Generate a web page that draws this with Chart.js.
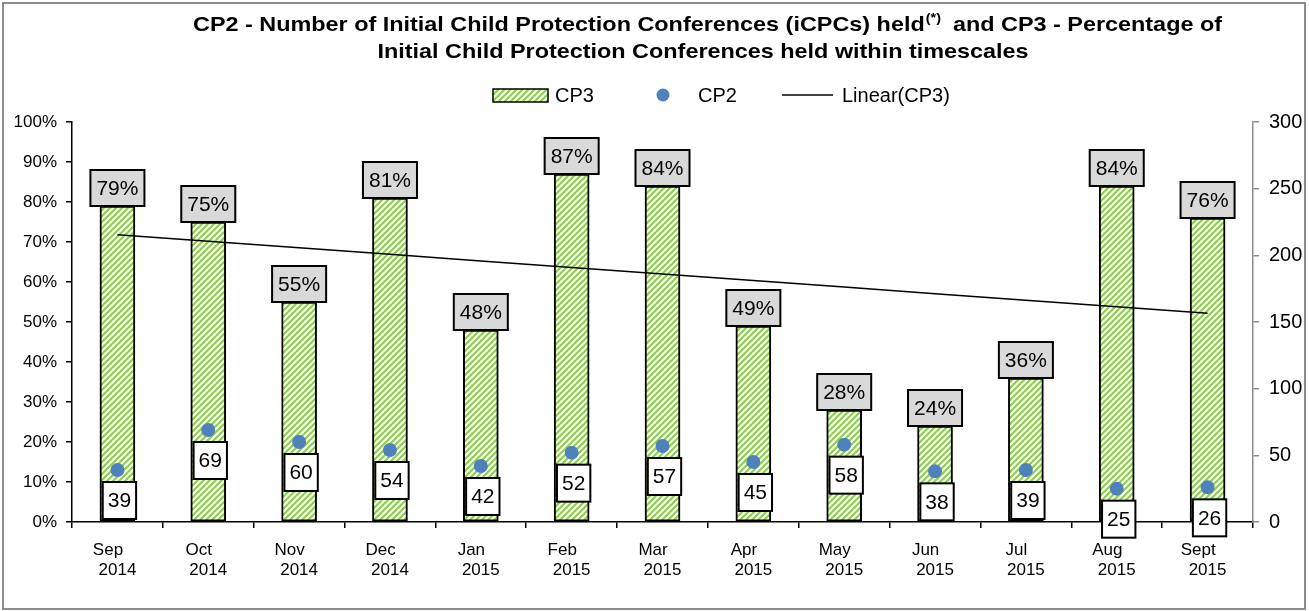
<!DOCTYPE html>
<html>
<head>
<meta charset="utf-8">
<script src="https://cdn.jsdelivr.net/npm/chart.js@4.4.1/dist/chart.umd.min.js"></script>
<style>
  body { margin: 0; background: #fff; }
  canvas { display: block; }
</style>
</head>
<body>
<canvas id="vis" width="1309" height="611"></canvas>
<script>
const FONT = "Arial, 'Liberation Sans', sans-serif";

// data
const months = ['Sep', 'Oct', 'Nov', 'Dec', 'Jan', 'Feb', 'Mar', 'Apr', 'May', 'Jun', 'Jul', 'Aug', 'Sept'];
const years = ['2014', '2014', '2014', '2014', '2015', '2015', '2015', '2015', '2015', '2015', '2015', '2015', '2015'];
const cp3 = [79, 75, 55, 81, 48, 87, 84, 49, 28, 24, 36, 84, 76];   // % within timescales
const cp2 = [39, 69, 60, 54, 42, 52, 57, 45, 58, 38, 39, 25, 26];   // number of iCPCs
const pctTicks = [0, 10, 20, 30, 40, 50, 60, 70, 80, 90, 100];
const countTicks = [0, 50, 100, 150, 200, 250, 300];

// excel-style trendline: least squares fit of cp3
const n = cp3.length;
const mx = (n - 1) / 2;
const my = cp3.reduce((a, b) => a + b, 0) / n;
let sxy = 0, sxx = 0;
cp3.forEach((v, i) => { sxy += (i - mx) * (v - my); sxx += (i - mx) * (i - mx); });
const slope = sxy / sxx;
const trend = cp3.map((v, i) => my + slope * (i - mx));

// "wide upward diagonal" green hatch
function hatch() {
  const c = document.createElement('canvas');
  c.width = c.height = 6;
  const g = c.getContext('2d');
  g.fillStyle = '#fff';
  g.fillRect(0, 0, 6, 6);
  g.strokeStyle = '#8fce4f';
  g.lineWidth = 2.2;
  g.beginPath();
  g.moveTo(-1, 7); g.lineTo(7, -1);
  g.moveTo(-1, 1); g.lineTo(1, -1);
  g.moveTo(5, 7); g.lineTo(7, 5);
  g.stroke();
  return g.createPattern(c, 'repeat');
}
const pattern = hatch();

const labels = months.map((m, i) => [m + '    ', years[i]]);

const boxLabels = {
  id: 'boxLabels',
  afterDatasetsDraw(chart) {
    const ctx = chart.ctx;
    ctx.save();
    ctx.font = '21px ' + FONT;
    ctx.textAlign = 'center';
    ctx.textBaseline = 'middle';
    ctx.lineWidth = 2;
    ctx.strokeStyle = '#000';
    chart.getDatasetMeta(0).data.forEach((el, i) => {
      const t = cp3[i] + '%';
      const w = ctx.measureText(t).width + 12, h = 36;
      const x = el.x - w / 2, y = el.y - h;
      ctx.fillStyle = '#d9d9d9';
      ctx.fillRect(x, y, w, h);
      ctx.strokeRect(x, y, w, h);
      ctx.fillStyle = '#000';
      ctx.fillText(t, el.x, y + h / 2 + 1);
    });
    chart.getDatasetMeta(2).data.forEach((el, i) => {
      const t = String(cp2[i]);
      const w = ctx.measureText(t).width + 10, h = 37;
      const cx = el.x + 2;
      const x = cx - w / 2, y = el.y + 12;
      ctx.fillStyle = '#fff';
      ctx.fillRect(x, y, w, h);
      ctx.strokeRect(x, y, w, h);
      ctx.fillStyle = '#000';
      ctx.fillText(t, cx, y + h / 2 + 1);
    });
    ctx.restore();
  }
};

const decorations = {
  id: 'decorations',
  afterDraw(chart) {
    const ctx = chart.ctx;
    ctx.save();
    // frame
    ctx.strokeStyle = '#8c8c8c';
    ctx.lineWidth = 2;
    ctx.strokeRect(3, 3, 1302, 606);

    // title, squeezed a little like the excel original
    const a = 'CP2 - Number of Initial Child Protection Conferences (iCPCs) held';
    const sup = '(*)';
    const b = '  and CP3 - Percentage of';
    const line2 = 'Initial Child Protection Conferences held within timescales';
    const big = 'bold 21px ' + FONT, small = 'bold 13px ' + FONT;
    ctx.fillStyle = '#000';
    ctx.textBaseline = 'alphabetic';
    ctx.textAlign = 'left';
    ctx.font = big;
    const wa = ctx.measureText(a).width, wb = ctx.measureText(b).width, w2 = ctx.measureText(line2).width;
    ctx.font = small;
    const ws = ctx.measureText(sup).width;
    const sx = 1029 / (wa + ws + wb);
    ctx.save();
    ctx.translate(193, 31);
    ctx.scale(sx, 1);
    ctx.font = big;
    ctx.fillText(a, 0, 0);
    ctx.font = small;
    ctx.fillText(sup, wa + 1, -9);
    ctx.font = big;
    ctx.fillText(b, wa + ws, 0);
    ctx.restore();
    ctx.save();
    ctx.translate(703 - w2 * sx / 2, 58);
    ctx.scale(sx, 1);
    ctx.font = big;
    ctx.fillText(line2, 0, 0);
    ctx.restore();

    // legend
    const ly = 95;
    ctx.fillStyle = pattern;
    ctx.fillRect(493, 89, 55, 13);
    ctx.strokeStyle = '#000';
    ctx.lineWidth = 1.5;
    ctx.strokeRect(493, 89, 55, 13);
    ctx.font = '20px ' + FONT;
    ctx.textBaseline = 'middle';
    ctx.fillStyle = '#000';
    ctx.fillText('CP3', 555, ly + 1);
    ctx.fillStyle = '#4f81bd';
    ctx.beginPath();
    ctx.arc(663, ly, 6.5, 0, Math.PI * 2);
    ctx.fill();
    ctx.fillStyle = '#000';
    ctx.fillText('CP2', 698, ly + 1);
    ctx.beginPath();
    ctx.moveTo(782, ly);
    ctx.lineTo(833, ly);
    ctx.strokeStyle = '#000';
    ctx.lineWidth = 1.5;
    ctx.stroke();
    ctx.fillText('Linear(CP3)', 842, ly + 1);
    ctx.restore();
  }
};

const ctx = document.getElementById('vis').getContext('2d');
const myChart = new Chart(ctx, {
  data: {
    labels: labels,
    datasets: [
      {
        type: 'bar',
        label: 'CP3',
        data: cp3,
        yAxisID: 'y',
        backgroundColor: pattern,
        borderColor: '#000',
        borderWidth: 2,
        borderSkipped: false,
        barThickness: 35,
        order: 3
      },
      {
        type: 'line',
        label: 'Linear(CP3)',
        data: trend,
        yAxisID: 'y',
        borderColor: '#000',
        borderWidth: 1.5,
        pointRadius: 0,
        fill: false,
        order: 2
      },
      {
        type: 'line',
        label: 'CP2',
        data: cp2,
        yAxisID: 'y1',
        showLine: false,
        pointRadius: 7,
        pointBackgroundColor: '#4f81bd',
        pointBorderWidth: 0,
        order: 1
      }
    ]
  },
  options: {
    responsive: false,
    animation: false,
    layout: { padding: { top: 122, left: 0, right: 0, bottom: 0 } },
    plugins: {
      legend: { display: false },
      title: { display: false },
      tooltip: { enabled: false }
    },
    scales: {
      x: {
        offset: true,
        grid: { offset: true, drawOnChartArea: false, drawTicks: true, tickLength: 6, color: '#000', lineWidth: 1.5 },
        border: { color: '#000', width: 1.5 },
        ticks: { color: '#000', font: { family: FONT, size: 17 }, padding: 12, maxRotation: 0, autoSkip: false },
        afterFit(s) { s.height = 89; }
      },
      y: {
        position: 'left',
        min: 0,
        max: 100,
        afterBuildTicks(s) { s.ticks = pctTicks.map(v => ({ value: v })); },
        grid: { drawOnChartArea: false, tickLength: 6, color: '#000', lineWidth: 1.5 },
        border: { color: '#000', width: 1.5 },
        ticks: { color: '#000', font: { family: FONT, size: 17 }, padding: 9, callback: v => v + '%' },
        afterFit(s) { s.width = 72; }
      },
      y1: {
        position: 'right',
        min: 0,
        max: 300,
        afterBuildTicks(s) { s.ticks = countTicks.map(v => ({ value: v })); },
        grid: { drawOnChartArea: false, tickLength: 6, color: '#8c8c8c', lineWidth: 1.5 },
        border: { color: '#8c8c8c', width: 1.5 },
        ticks: { color: '#000', font: { family: FONT, size: 20 }, padding: 10 },
        afterFit(s) { s.width = 56; }
      }
    }
  },
  plugins: [boxLabels, decorations]
});
</script>
</body>
</html>
